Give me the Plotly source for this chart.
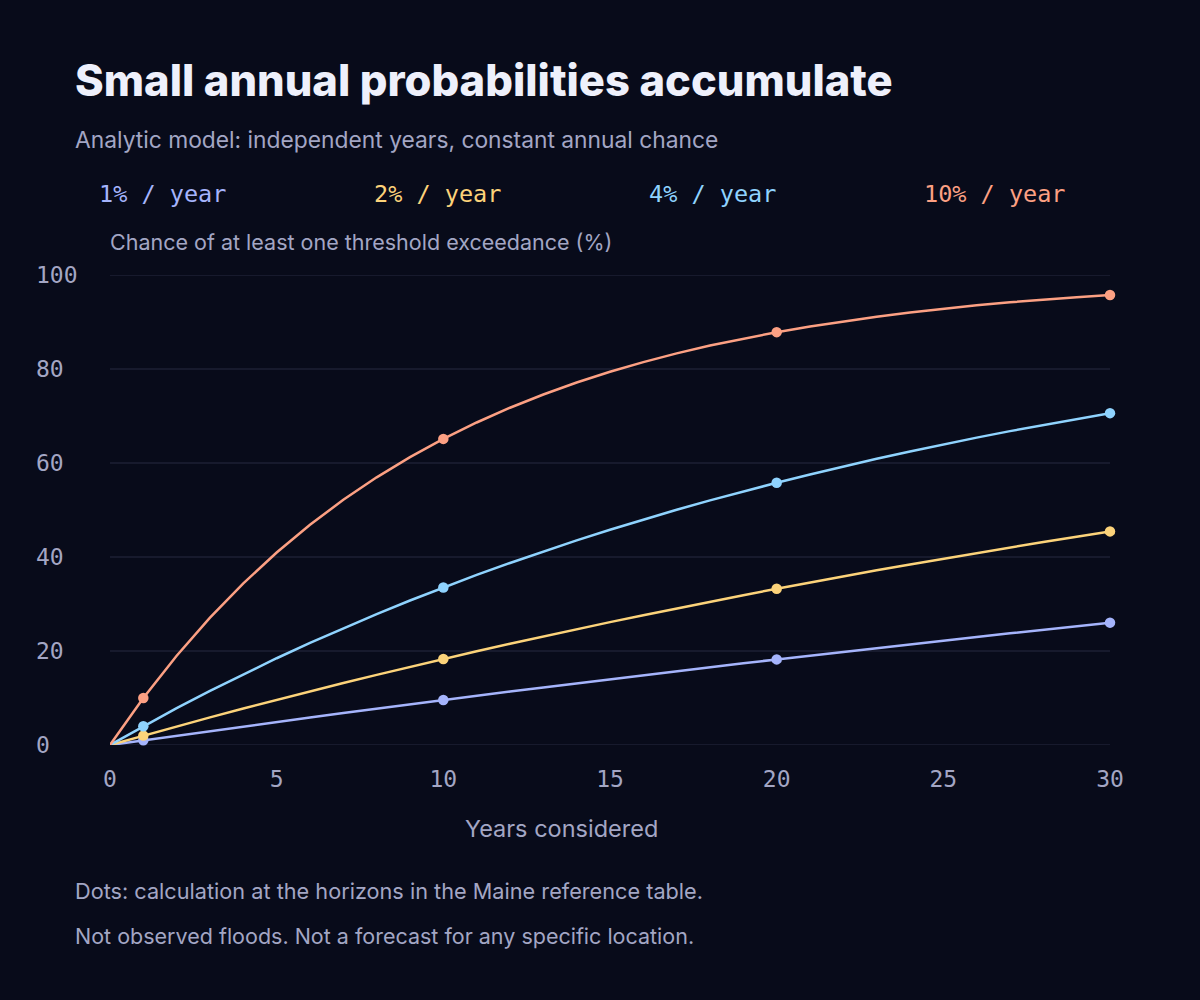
import plotly.graph_objects as go

years = list(range(0, 31))
p1 = [0, 1.00, 1.99, 2.97, 3.94, 4.90, 5.85, 6.79, 7.73, 8.65, 9.56, 10.47, 11.36, 12.25, 13.13, 13.99,
      14.85, 15.71, 16.55, 17.38, 18.21, 19.03, 19.84, 20.64, 21.43, 22.22, 23.00, 23.77, 24.53, 25.28, 26.03]
p2 = [0, 2.00, 3.96, 5.88, 7.76, 9.61, 11.42, 13.19, 14.92, 16.63, 18.29, 19.93, 21.53, 23.10, 24.64, 26.14,
      27.62, 29.07, 30.49, 31.88, 33.24, 34.58, 35.89, 37.17, 38.42, 39.65, 40.86, 42.04, 43.20, 44.33, 45.45]
p4 = [0, 4.00, 7.84, 11.53, 15.07, 18.46, 21.72, 24.86, 27.86, 30.75, 33.52, 36.18, 38.73, 41.18, 43.53, 45.79,
      47.96, 50.04, 52.04, 53.96, 55.80, 57.57, 59.26, 60.89, 62.46, 63.96, 65.40, 66.78, 68.11, 69.39, 70.61]
p10 = [0, 10.00, 19.00, 27.10, 34.39, 40.95, 46.86, 52.17, 56.95, 61.26, 65.13, 68.62, 71.76, 74.58, 77.12, 79.41,
       81.47, 83.32, 84.99, 86.49, 87.84, 89.06, 90.15, 91.14, 92.02, 92.82, 93.54, 94.19, 94.77, 95.29, 95.76]
horizons = [1, 10, 20, 30]
series_names = ["1% / year", "2% / year", "4% / year", "10% / year"]
series_colors = ["#a5b4fc", "#fcd37a", "#8fd3fe", "#fca083"]
series_values = [p1, p2, p4, p10]
y_ticks = [0, 20, 40, 60, 80, 100]
x_ticks = [0, 5, 10, 15, 20, 25, 30]

BG = "#080b1a"
MUTED = "#a3a6c4"
GRID = "#262a40"
SANS = "Inter, Noto Sans, sans-serif"
MONO = "DejaVu Sans Mono, monospace"

# plot-area geometry in pixels
L, R, T, B = 110, 1110, 275, 745
W, H = R - L, B - T

def px(x):
    return (x - L) / W

def py(y):
    return (B - y) / H

fig = go.Figure()
for name, color, vals in zip(series_names, series_colors, series_values):
    fig.add_trace(go.Scatter(x=years, y=vals, mode="lines", name=name,
                             line=dict(color=color, width=2.5), hoverinfo="skip",
                             showlegend=False, cliponaxis=False))
for name, color, vals in zip(series_names, series_colors, series_values):
    fig.add_trace(go.Scatter(x=horizons, y=[vals[h] for h in horizons], mode="markers",
                             marker=dict(color=color, size=10.5), cliponaxis=False,
                             showlegend=False, name=name))

ann = []
ann.append(dict(text="Small annual probabilities accumulate", x=px(73), y=py(80),
                font=dict(family=SANS, size=43.5, color="#eef0fb", weight=800)))
ann.append(dict(text="Analytic model: independent years, constant annual chance", x=px(73), y=py(139),
                font=dict(family=SANS, size=22.8, color=MUTED)))
leg_x = [97, 372, 647, 922]
for name, color, lx in zip(series_names, series_colors, leg_x):
    ann.append(dict(text=name, x=px(lx), y=py(194), font=dict(family=MONO, size=23.5, color=color)))
ann.append(dict(text="Chance of at least one threshold exceedance (%)", x=px(108), y=py(242),
                font=dict(family=SANS, size=21.5, color=MUTED)))
ann.append(dict(text="Dots: calculation at the horizons in the Maine reference table.", x=px(73), y=py(891),
                font=dict(family=SANS, size=21.7, color=MUTED)))
ann.append(dict(text="Not observed floods. Not a forecast for any specific location.", x=px(73), y=py(936),
                font=dict(family=SANS, size=21.5, color=MUTED)))
for a in ann:
    a.update(xref="paper", yref="paper", xanchor="left", yanchor="middle", showarrow=False)
for t in y_ticks:
    ann.append(dict(text=str(t), x=px(34), y=t, xref="paper", yref="y", xanchor="left", yanchor="middle",
                    showarrow=False, font=dict(family=MONO, size=23, color=MUTED)))
ann.append(dict(text="Years considered", x=px(561), y=py(828), xref="paper", yref="paper",
                xanchor="center", yanchor="middle", showarrow=False,
                font=dict(family=SANS, size=23.5, color=MUTED)))

shapes = [dict(type="line", xref="paper", yref="y", x0=0, x1=1, y0=t, y1=t, layer="below",
               line=dict(color=GRID, width=1)) for t in y_ticks]

fig.update_layout(
    width=1200, height=1000,
    margin=dict(l=L, r=1200 - R, t=T, b=1000 - B, pad=0),
    paper_bgcolor=BG, plot_bgcolor=BG,
    annotations=ann,
    shapes=shapes,
    xaxis=dict(range=[0, 30], tickvals=x_ticks, showgrid=False, zeroline=False, showline=False,
               ticks="", tickfont=dict(family=MONO, size=23, color=MUTED), ticklabelstandoff=18,
               fixedrange=True),
    yaxis=dict(range=[0, 100], tickvals=y_ticks, showticklabels=False, showgrid=False,
               zeroline=False, showline=False, ticks="", fixedrange=True),
    hovermode=False,
)

fig.write_html("out.html")
